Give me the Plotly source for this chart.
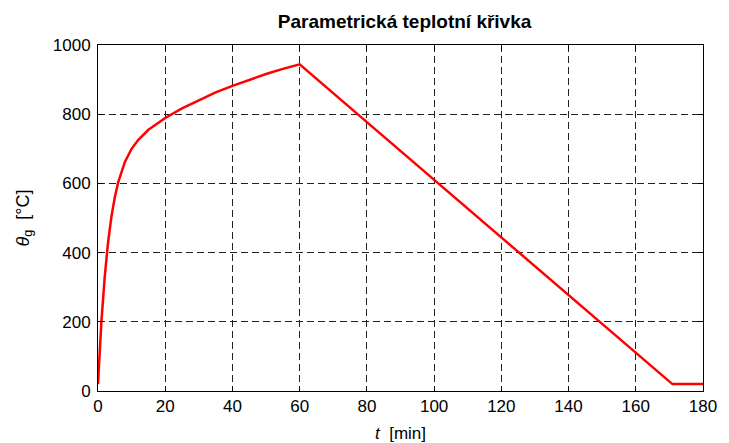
import plotly.graph_objects as go

# Time [min] and gas temperature [°C]
t_min = [0, 1, 2, 3, 4, 5, 6, 8, 10, 12, 15, 20, 25, 30, 35, 40, 45, 50, 55, 60,
         80, 100, 120, 140, 160, 170.9, 180]
theta_g = [20, 199, 330, 430, 504, 560, 603, 662, 700, 726, 755, 789, 817, 841, 863,
           882, 900, 916, 931, 944, 777, 611, 444, 277, 111, 20, 20]

x_ticks = [0, 20, 40, 60, 80, 100, 120, 140, 160, 180]
y_ticks = [0, 200, 400, 600, 800, 1000]

FONT = "Liberation Sans, Arial, sans-serif"

fig = go.Figure()
fig.add_trace(go.Scatter(x=t_min, y=theta_g, mode="lines",
                         line=dict(color="#ff0000", width=2.5), showlegend=False))

axis_common = dict(
    showline=True, linecolor="black", linewidth=1, mirror="ticks",
    ticks="inside", ticklen=5, tickcolor="black", tickwidth=1,
    showgrid=True, gridcolor="#222222", gridwidth=1, griddash="7px,4px",
    zeroline=False, tickfont=dict(family=FONT, size=17, color="black"),
)

fig.update_layout(
    width=729, height=443,
    margin=dict(l=98, r=19, t=45, b=52),
    paper_bgcolor="white", plot_bgcolor="white",
    xaxis=dict(range=[0, 180], tickvals=x_ticks, **axis_common),
    yaxis=dict(range=[0, 1000], tickvals=y_ticks, ticklabelstandoff=3, **axis_common),
    title=dict(text="<b>Parametrická teplotní křivka</b>", x=0.555, xanchor="center",
               y=1 - 21 / 443, yanchor="middle", yref="container",
               font=dict(family=FONT, size=19, color="black")),
    annotations=[
        dict(text="<i>t</i>  [min]", xref="paper", yref="paper", x=0.5, y=-0.122,
             xanchor="center", yanchor="middle", showarrow=False,
             font=dict(family=FONT, size=17, color="black")),
        dict(text="<i>θ</i><sub>g</sub>  [°C]", xref="paper", yref="paper",
             x=-0.123, y=0.5, xanchor="center", yanchor="middle", textangle=-90,
             showarrow=False, font=dict(family=FONT, size=18, color="black")),
    ],
)

fig.write_html("out.html")
